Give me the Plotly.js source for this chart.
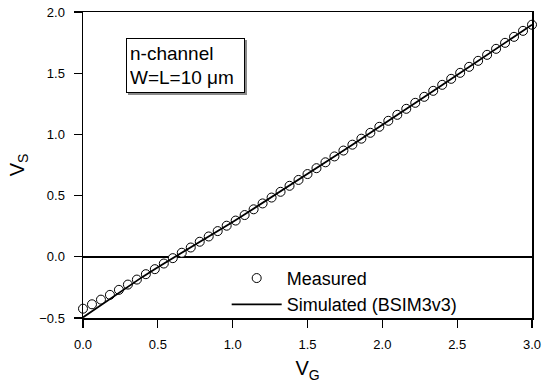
<!DOCTYPE html>
<html>
<head>
<meta charset="utf-8">
<script src="https://cdn.plot.ly/plotly-3.0.1.min.js"></script>
<style>
  html, body { margin: 0; padding: 0; background: #fff; }
  #chart { width: 543px; height: 390px; }
</style>
</head>
<body>
<div id="chart"></div>
<script>
// Source-follower transfer: source voltage V_S versus gate voltage V_G
const measuredVG = [
  0.00, 0.06, 0.12, 0.18, 0.24, 0.30, 0.36, 0.42, 0.48, 0.54,
  0.60, 0.66, 0.72, 0.78, 0.84, 0.90, 0.96, 1.02, 1.08, 1.14,
  1.20, 1.26, 1.32, 1.38, 1.44, 1.50, 1.56, 1.62, 1.68, 1.74,
  1.80, 1.86, 1.92, 1.98, 2.04, 2.10, 2.16, 2.22, 2.28, 2.34,
  2.40, 2.46, 2.52, 2.58, 2.64, 2.70, 2.76, 2.82, 2.88, 2.94,
  3.00
];
const measuredVS = [
  -0.424, -0.388, -0.350, -0.311, -0.270, -0.227, -0.186, -0.142, -0.101, -0.055,
  -0.011,  0.033,  0.076,  0.123,  0.166,  0.210,  0.254,  0.296,  0.341,  0.388,
   0.436,  0.484,  0.531,  0.580,  0.628,  0.676,  0.724,  0.772,  0.820,  0.868,
   0.916,  0.965,  1.013,  1.062,  1.111,  1.160,  1.209,  1.258,  1.307,  1.356,
   1.405,  1.454,  1.503,  1.552,  1.601,  1.650,  1.699,  1.748,  1.797,  1.846,
   1.896
];

const simulatedVG = [
  0.0, 0.1, 0.2, 0.3, 0.4, 0.5, 0.6, 0.7, 0.8, 0.9, 1.0,
  1.1, 1.2, 1.3, 1.4, 1.5, 1.6, 1.7, 1.8, 1.9, 2.0,
  2.1, 2.2, 2.3, 2.4, 2.5, 2.6, 2.7, 2.8, 2.9, 3.0
];
const simulatedVS = [
  -0.495, -0.410, -0.325, -0.242, -0.162, -0.085, -0.012, 0.062, 0.137, 0.212, 0.285,
   0.362,  0.440,  0.518,  0.597,  0.676,  0.756,  0.836, 0.916, 0.996, 1.077,
   1.158,  1.240,  1.322,  1.404,  1.486,  1.568,  1.650, 1.732, 1.814, 1.896
];

const tickVals = [0.0, 0.5, 1.0, 1.5, 2.0, 2.5, 3.0];
const yTickVals = [-0.5, 0.0, 0.5, 1.0, 1.5, 2.0];

const FONT = 'Liberation Sans, Arial, Helvetica, sans-serif';

const traces = [
  {
    x: measuredVG, y: measuredVS,
    name: 'Measured',
    type: 'scatter', mode: 'markers',
    cliponaxis: false,
    legendgroup: 'm',
    marker: { symbol: 'circle', size: 9, color: '#ffffff', line: { color: '#000000', width: 1 } }
  },
  {
    x: simulatedVG, y: simulatedVS,
    name: 'Simulated (BSIM3v3)',
    type: 'scatter', mode: 'lines',
    legendgroup: 's',
    line: { color: '#000000', width: 1.8 }
  }
];

const boxText = 'n-channel<br>W=L=10 \u03bcm';
const boxFont = 19;

// device label box (with a grey drop shadow drawn first)
function labelBox(shadow) {
  return {
    xref: 'paper', yref: 'paper', x: 0.096, y: 0.914,
    xanchor: 'left', yanchor: 'top', align: 'left', valign: 'middle',
    showarrow: false,
    width: 111, height: 47,
    xshift: shadow ? 2 : 0, yshift: shadow ? -2 : 0,
    text: boxText,
    font: { family: FONT, size: boxFont, color: shadow ? 'rgba(0,0,0,0)' : '#000' },
    bgcolor: shadow ? '#8a8a8a' : '#ffffff',
    bordercolor: shadow ? '#8a8a8a' : '#000000',
    borderwidth: 1, borderpad: 3
  };
}

const layout = {
  width: 543, height: 390,
  margin: { l: 83, r: 11, t: 12, b: 72 },
  paper_bgcolor: '#ffffff', plot_bgcolor: '#ffffff',
  font: { family: FONT, color: '#000000' },
  showlegend: true,
  legend: {
    x: 0.32, y: 0.19, xanchor: 'left', yanchor: 'top',
    bgcolor: 'rgba(0,0,0,0)', borderwidth: 0,
    font: { family: FONT, size: 18, color: '#000000' },
    itemwidth: 50, tracegroupgap: 0, traceorder: 'grouped'
  },
  xaxis: {
    range: [0, 3], tickvals: tickVals, tickformat: '.1f',
    ticks: 'outside', ticklen: 8, tickwidth: 1.3, tickcolor: '#000',
    ticklabelstandoff: 6,
    showline: true, linecolor: '#000', linewidth: 1.5, mirror: true,
    showgrid: false, zeroline: false,
    tickfont: { family: FONT, size: 13, color: '#000' },
    title: { text: 'V<sub>G</sub>', font: { family: FONT, size: 20, color: '#000' }, standoff: 10 }
  },
  yaxis: {
    range: [-0.5, 2.0], tickvals: yTickVals, tickformat: '.1f',
    ticks: 'outside', ticklen: 8, tickwidth: 1.3, tickcolor: '#000',
    ticklabelstandoff: 6,
    showline: true, linecolor: '#000', linewidth: 1.5, mirror: true,
    showgrid: false,
    zeroline: true, zerolinecolor: '#000', zerolinewidth: 1.5,
    tickfont: { family: FONT, size: 13, color: '#000' },
    title: { text: 'V<sub>S</sub>', font: { family: FONT, size: 20, color: '#000' }, standoff: 9 }
  },
  annotations: [labelBox(true), labelBox(false)]
};

Plotly.newPlot('chart', traces, layout, { displayModeBar: false, staticPlot: true });
</script>
</body>
</html>
